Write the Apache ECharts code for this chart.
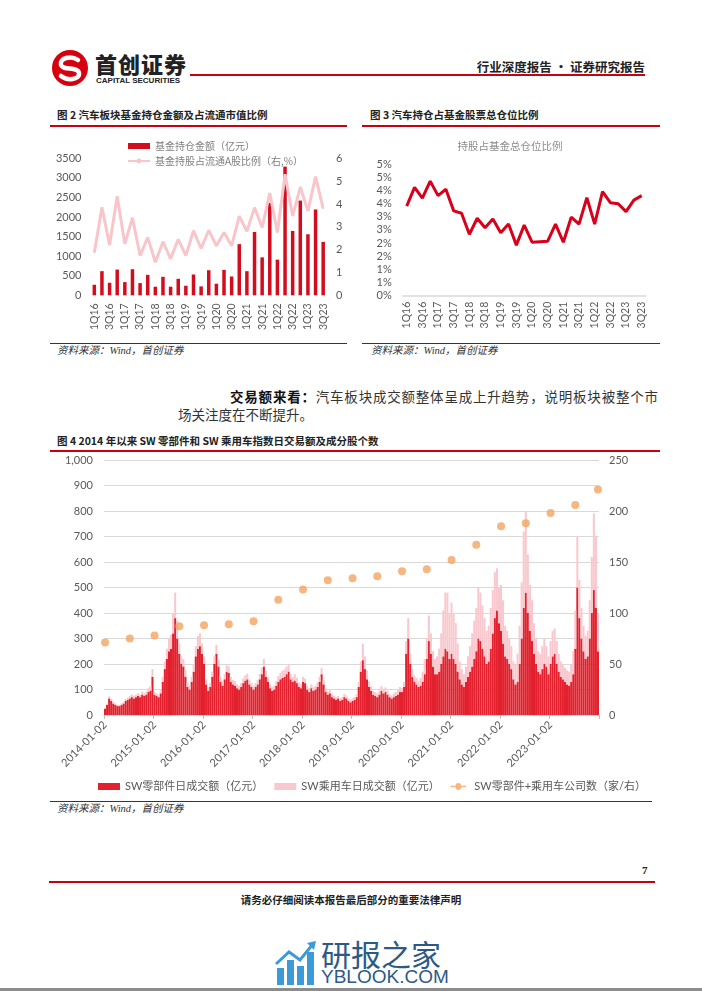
<!DOCTYPE html>
<html><head><meta charset="utf-8">
<script src="https://cdn.jsdelivr.net/npm/echarts@6/dist/echarts.min.js"></script>
<style>
body{margin:0;background:#fff;}
#page{position:relative;width:702px;height:991px;overflow:hidden;font-family:"Noto Sans CJK SC",sans-serif;color:#222;background:#fff;}
.abs{position:absolute;white-space:nowrap;}
.ftitle{font-size:10.5px;font-weight:bold;color:#222;line-height:14px;}
.rline{position:absolute;background:#c8000f;}
.dline{position:absolute;background:#9b0a0a;height:1px;}
.src{font-size:10.5px;font-style:italic;color:#333;line-height:14px;font-family:"Liberation Serif","Noto Sans CJK SC",serif;}
.para{font-size:13.5px;color:#333;line-height:18px;}
.chart{position:absolute;}
</style></head>
<body><div id="page">
  <!-- header -->
  <svg class="abs" style="left:50px;top:48px" width="40" height="40" viewBox="0 0 40 40">
    <circle cx="20" cy="20" r="18" fill="#d7000f"/>
    <path d="M28 12 C 21 7, 9 10, 11 17 C 13 23, 28 18, 29 25 C 30 32, 17 33, 11 28" stroke="#fff" stroke-width="4.5" fill="none" stroke-linecap="round"/>
  </svg>
  <div class="abs" style="left:95px;top:50px;font-size:22px;font-weight:900;letter-spacing:1px;color:#222;line-height:26px;">首创证券</div>
  <div class="abs" style="left:96px;top:76px;font-size:8px;font-weight:bold;color:#222;font-family:'Liberation Sans',Arial,sans-serif;line-height:10px;">CAPITAL SECURITIES</div>
  <div class="rline" style="left:190px;top:74px;width:455px;height:2px;"></div>
  <div class="abs" style="right:57px;top:59px;font-size:12.5px;font-weight:bold;color:#222;line-height:15px;">行业深度报告 · 证券研究报告</div>

  <!-- figure 2/3 titles -->
  <div class="abs ftitle" style="left:57px;top:108px;">图 2 汽车板块基金持仓金额及占流通市值比例</div>
  <div class="rline" style="left:50px;top:125px;width:297px;height:1.5px;"></div>
  <div class="abs ftitle" style="left:370px;top:108px;">图 3 汽车持仓占基金股票总仓位比例</div>
  <div class="rline" style="left:362px;top:125px;width:298px;height:1.5px;"></div>

  <div id="c2" class="chart" style="left:50px;top:128px;width:300px;height:205px;"></div>
  <div id="c3" class="chart" style="left:360px;top:128px;width:300px;height:205px;"></div>

  <div class="dline" style="left:50px;top:343px;width:297px;"></div>
  <div class="abs src" style="left:57px;top:344px;">资料来源：Wind，首创证券</div>
  <div class="dline" style="left:362px;top:343px;width:298px;"></div>
  <div class="abs src" style="left:371px;top:344px;">资料来源：Wind，首创证券</div>

  <!-- paragraph -->
  <div class="abs para" style="left:230px;top:387px;width:428px;text-align:justify;text-align-last:justify;"><b style="color:#111">交易额来看：</b>汽车板块成交额整体呈成上升趋势，说明板块被整个市</div>
  <div class="abs para" style="left:178px;top:405px;">场关注度在不断提升。</div>

  <!-- figure 4 -->
  <div class="abs ftitle" style="left:57px;top:434px;">图 4 2014 年以来 SW 零部件和 SW 乘用车指数日交易额及成分股个数</div>
  <div class="rline" style="left:50px;top:450px;width:610px;height:1.5px;"></div>
  <div id="c4" class="chart" style="left:40px;top:452px;width:660px;height:345px;"></div>
  <div class="dline" style="left:50px;top:801px;width:602px;"></div>
  <div class="abs src" style="left:57px;top:802px;">资料来源：Wind，首创证券</div>

  <!-- footer -->
  <div class="abs" style="left:642px;top:864px;font-size:11px;font-weight:bold;color:#222;font-family:'Liberation Serif',serif;">7</div>
  <div class="rline" style="left:49px;top:881px;width:606px;height:2px;"></div>
  <div class="abs" style="left:0;width:702px;top:892px;text-align:center;font-size:10.5px;font-weight:bold;color:#222;">请务必仔细阅读本报告最后部分的重要法律声明</div>

  <!-- watermark -->
  <svg class="abs" style="left:275px;top:940px" width="44" height="46" viewBox="0 0 44 46">
    <rect x="2" y="28" width="7" height="17" fill="#3d9ad9"/>
    <rect x="12" y="20" width="7" height="25" fill="#3d9ad9"/>
    <rect x="22" y="26" width="7" height="19" fill="#3d9ad9"/>
    <rect x="32" y="12" width="7" height="33" fill="#3d9ad9"/>
    <path d="M1 24 L14 12 L25 20 L38 4" stroke="#3d9ad9" stroke-width="3" fill="none"/>
    <path d="M32 3 L41 1 L39 10 Z" fill="#3d9ad9"/>
  </svg>
  <div class="abs" style="left:321px;top:936px;font-size:30px;color:#2c5a86;line-height:34px;">研报之家</div>
  <div class="abs" style="left:321px;top:966px;font-size:19px;color:#2c5a86;line-height:22px;font-family:'Liberation Sans',Arial,sans-serif;">YBLOOK.COM</div>
  <div class="abs" style="left:0;top:988px;width:702px;height:3px;background:#8c8c8c;"></div>
</div>

<script>
// ---------- Figure 2 & 3 data ----------
const quarters = ['1Q16','2Q16','3Q16','4Q16','1Q17','2Q17','3Q17','4Q17','1Q18','2Q18','3Q18','4Q18','1Q19','2Q19','3Q19','4Q19','1Q20','2Q20','3Q20','4Q20','1Q21','2Q21','3Q21','4Q21','1Q22','2Q22','3Q22','4Q22','1Q23','2Q23','3Q23'];
const fundHolding = [270,617,321,658,338,667,313,523,220,473,220,422,245,532,228,641,296,650,481,1307,617,1619,970,2362,911,3288,1644,2420,1560,2193,1366];
const fundRatio = [1.86,3.86,2.2,4.34,2.25,3.40,1.74,2.54,1.45,2.35,1.6,2.45,1.74,2.83,2.05,2.85,2.17,2.75,2.17,3.47,2.8,3.84,2.97,4.48,2.75,5.3,3.47,4.74,3.69,5.2,3.79];
const positionRatio = [3.40,4.11,3.70,4.35,3.80,4.04,3.22,3.13,2.33,2.94,2.58,2.91,2.39,2.72,1.92,2.68,2.03,2.05,2.07,2.72,2.03,2.98,2.72,3.72,2.72,3.95,3.53,3.49,3.19,3.63,3.80];

// ---------- Figure 4 data (semi-monthly, 2014-01 .. 2023-12) ----------
const partsAmount = [
 25,40,65,55,45,40,35,35,40,45,55,60,65,70,65,70,75,70,80,75,80,90,95,150,
 80,75,70,85,130,180,220,250,260,320,380,300,240,200,190,150,110,100,130,170,230,260,270,240,
 200,120,95,110,150,200,240,190,130,115,140,170,165,130,120,115,105,100,110,125,135,140,120,110,
 100,110,120,140,160,190,150,130,105,95,100,115,130,140,145,150,160,170,140,130,135,125,110,105,
 130,125,100,90,105,95,100,110,130,160,120,90,80,85,70,65,60,65,55,60,70,65,55,50,
 55,60,70,110,170,215,180,140,110,95,80,75,70,80,95,85,90,80,70,65,70,75,80,90,
 90,110,240,300,200,150,130,120,110,115,130,160,220,290,240,190,160,160,170,200,230,260,250,220,
 240,220,200,170,140,120,110,130,150,170,190,220,250,300,290,260,230,200,210,260,320,380,410,360,
 330,280,230,220,200,180,140,120,130,200,300,420,480,400,330,290,240,200,170,160,180,200,190,160,
 200,230,240,200,170,150,140,130,120,115,130,160,260,500,380,300,250,220,230,300,400,490,420,250
];
const carsAmount = [
 3,5,8,8,6,5,5,5,6,6,8,8,10,10,10,10,10,10,12,10,12,15,18,30,
 10,10,10,12,20,30,40,50,55,80,100,70,40,30,30,25,15,15,20,30,40,50,50,40,
 30,20,15,15,20,30,35,30,20,18,20,25,25,20,18,18,15,15,15,18,20,22,18,15,
 15,15,18,22,25,30,22,18,15,15,15,18,22,25,28,28,30,28,22,20,25,20,18,15,
 20,18,15,15,15,15,15,18,20,25,18,15,12,12,12,10,10,10,10,10,12,12,10,10,
 10,10,12,20,40,65,50,35,22,18,15,15,15,15,18,18,18,15,12,12,15,15,18,20,
 15,20,50,80,40,30,25,25,25,30,40,60,80,100,80,60,60,70,90,120,180,220,230,180,
 200,180,160,110,70,60,50,60,80,100,130,150,170,200,190,170,150,130,140,160,170,180,165,140,
 180,170,120,110,100,90,70,80,110,150,220,300,320,230,180,160,120,100,80,80,90,100,80,70,
 90,100,100,90,70,60,60,55,55,55,70,90,150,200,150,120,100,90,100,150,220,300,280,150
];
const companyDates = ['2014-01-02','2014-07-01','2015-01-02','2015-07-01','2016-01-02','2016-07-01','2017-01-02','2017-07-01','2018-01-02','2018-07-01','2019-01-02','2019-07-01','2020-01-02','2020-07-01','2021-01-02','2021-07-01','2022-01-02','2022-07-01','2023-01-02','2023-07-01','2023-12-16'];
const companyCounts = [71,75,78,87,88,89,92,113,123,132,134,136,141,143,152,167,185,188,198,206,221];

// category axis for figure 4: two points per month
const dates = [];
for (let y = 2014; y <= 2023; y++) {
  for (let m = 1; m <= 12; m++) {
    const mm = String(m).padStart(2, '0');
    dates.push(y + '-' + mm + '-' + (m === 1 ? '02' : '01'));
    dates.push(y + '-' + mm + '-16');
  }
}

const FONT = 'Lato, "Noto Sans CJK SC", sans-serif';
const LBL = '#595959';

// ---------- Figure 2 ----------
const c2 = echarts.init(document.getElementById('c2'));
c2.setOption({
  animation: false,
  textStyle: {fontFamily: FONT},
  legend: {
    orient: 'vertical', left: 72, top: 8, itemWidth: 22, itemHeight: 6, itemGap: 5,
    textStyle: {fontSize: 10, color: '#7f7f7f', fontFamily: '"Noto Sans CJK SC", sans-serif'},
    data: [{name: '基金持仓金额（亿元）', icon: 'rect'}, {name: '基金持股占流通A股比例（右,%）'}]
  },
  grid: {left: 40.5, right: 23, top: 30.3, bottom: 36.3},
  xAxis: {
    type: 'category', data: quarters,
    axisLine: {show: false}, axisTick: {show: false},
    axisLabel: {rotate: 90, interval: 1, fontSize: 10.5, color: LBL, margin: 8}
  },
  yAxis: [
    {type: 'value', min: 0, max: 3500, interval: 500, splitLine: {show: false},
     axisLabel: {fontSize: 11, color: LBL, margin: 9, formatter: v => String(v)}},
    {type: 'value', min: 0, max: 6, interval: 1, splitLine: {show: false},
     axisLabel: {fontSize: 11, color: LBL, margin: 9}}
  ],
  series: [
    {name: '基金持仓金额（亿元）', type: 'bar', data: fundHolding, barWidth: 3.5,
     itemStyle: {color: '#d40d1e'}},
    {name: '基金持股占流通A股比例（右,%）', type: 'line', yAxisIndex: 1, data: fundRatio,
     symbol: 'none', lineStyle: {width: 3, color: '#f8c6ca'}, itemStyle: {color: '#f8c6ca'}}
  ]
});

// ---------- Figure 3 ----------
const c3 = echarts.init(document.getElementById('c3'));
c3.setOption({
  animation: false,
  textStyle: {fontFamily: FONT},
  title: {text: '持股占基金总仓位比例', left: 'center', top: 8,
          textStyle: {fontSize: 10.5, color: '#8c8c8c', fontWeight: 'normal', fontFamily: '"Noto Sans CJK SC", sans-serif'}},
  grid: {left: 42.8, right: 14.4, top: 36, bottom: 37.3},
  xAxis: {
    type: 'category', data: quarters,
    axisLine: {lineStyle: {color: '#d9d9d9', width: 1.5}}, axisTick: {show: false},
    axisLabel: {rotate: 90, interval: 1, fontSize: 10.5, color: LBL, margin: 6}
  },
  yAxis: {
    type: 'value', min: 0, max: 5, interval: 0.5, splitLine: {show: false},
    axisLabel: {fontSize: 11, color: LBL, margin: 11, formatter: v => Math.round(v) + '%'}
  },
  series: [{name: '持股占基金总仓位比例', type: 'line', data: positionRatio, symbol: 'none',
            lineStyle: {width: 3, color: '#d9001b'}}]
});

// ---------- Figure 4 ----------
const c4 = echarts.init(document.getElementById('c4'));
const showYear = i => i % 24 === 0;
c4.setOption({
  animation: false,
  textStyle: {fontFamily: FONT},
  legend: {
    left: 53, top: 324, itemWidth: 22, itemHeight: 7, itemGap: 11,
    textStyle: {fontSize: 11, color: LBL, fontFamily: FONT},
    data: [
      {name: 'SW零部件日成交额（亿元）', icon: 'rect'},
      {name: 'SW乘用车日成交额（亿元）', icon: 'rect'},
      {name: 'SW零部件+乘用车公司数（家/右）', icon: 'path://M0,3H7A4,4 0 0,1 15,3H22V5H15A4,4 0 0,1 7,5H0Z'}
    ]
  },
  grid: {left: 64, right: 101, top: 8, bottom: 82},
  xAxis: {
    type: 'category', data: dates,
    axisLine: {lineStyle: {color: '#d9d9d9'}},
    axisTick: {show: true, interval: showYear, length: 4, lineStyle: {color: '#bfbfbf'}},
    axisLabel: {interval: showYear, rotate: 45, fontSize: 11, color: LBL, margin: 8}
  },
  yAxis: [
    {type: 'value', min: 0, max: 1000, interval: 100,
     splitLine: {lineStyle: {color: '#d9d9d9'}},
     axisLabel: {fontSize: 11, color: LBL, margin: 11, formatter: v => v.toLocaleString('en-US')}},
    {type: 'value', min: 0, max: 250, interval: 50, splitLine: {show: false},
     axisLabel: {fontSize: 11, color: LBL, margin: 10}}
  ],
  series: [
    {name: 'SW零部件日成交额（亿元）', type: 'bar', stack: 'amt', data: partsAmount,
     barCategoryGap: '0%', itemStyle: {color: '#e3202d'}},
    {name: 'SW乘用车日成交额（亿元）', type: 'bar', stack: 'amt', data: carsAmount,
     barCategoryGap: '0%', itemStyle: {color: '#f9c8ce'}},
    {name: 'SW零部件+乘用车公司数（家/右）', type: 'scatter', yAxisIndex: 1,
     data: companyDates.map((d, i) => [d, companyCounts[i]]),
     symbolSize: 8, itemStyle: {color: '#f4a462'}, z: 5}
  ]
});
</script>
</body></html>
